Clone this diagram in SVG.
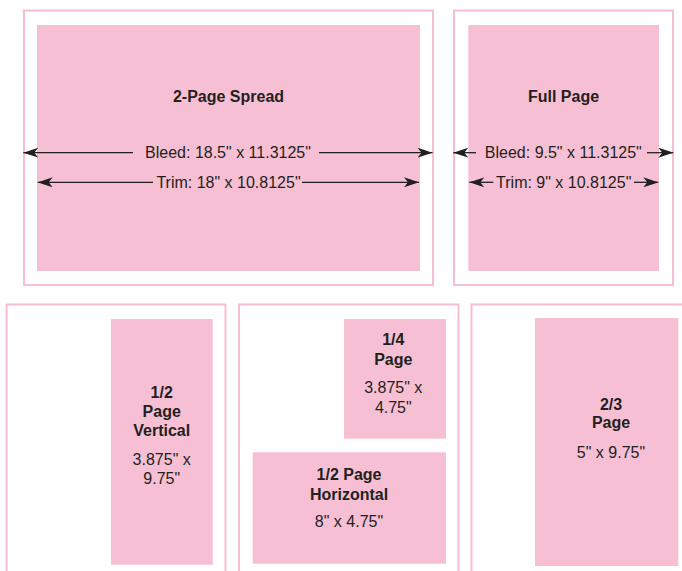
<svg xmlns="http://www.w3.org/2000/svg" width="682" height="571" viewBox="0 0 682 571">
<style>
.frame{fill:#ffffff;stroke:#f7bdd1;stroke-width:2}
.ad{fill:#f6bfd3}
.t{font-family:"Liberation Sans",Arial,sans-serif;font-size:16px;fill:#231f20;text-anchor:middle}
.b{font-weight:bold}
.dim{stroke:#231f20;stroke-width:1.3;fill:none}
</style>
<defs>
<marker id="ah" viewBox="0 0 15 10" refX="15" refY="5" markerWidth="15" markerHeight="10" markerUnits="userSpaceOnUse" orient="auto-start-reverse">
<path d="M0,0 L15,5 L0,10 L4,5 Z" fill="#231f20"/>
</marker>
</defs>
<rect width="682" height="571" fill="#ffffff"/>

<g id="spread">
<rect class="frame" x="24" y="10.5" width="409" height="274.5"/>
<rect class="ad" x="37" y="25" width="383" height="246"/>
<text class="t b" x="228.5" y="102">2-Page Spread</text>
<text class="t" x="228" y="158">Bleed: 18.5" x 11.3125"</text>
<text class="t" x="228.5" y="187.5">Trim: 18" x 10.8125"</text>
</g>

<g id="full-page">
<rect class="frame" x="454" y="10.5" width="219" height="274.5"/>
<rect class="ad" x="468.3" y="25" width="190.7" height="246"/>
<text class="t b" x="563.5" y="102">Full Page</text>
<text class="t" x="563.3" y="158">Bleed: 9.5" x 11.3125"</text>
<text class="t" x="563.7" y="187.5">Trim: 9" x 10.8125"</text>
</g>

<g id="half-vertical">
<rect class="frame" x="6.5" y="304.5" width="219" height="300"/>
<rect class="ad" x="111" y="319" width="101.7" height="245.7"/>
<text class="t b" x="161.7" y="397.7">1/2</text>
<text class="t b" x="161.7" y="416.7">Page</text>
<text class="t b" x="161.7" y="435.7">Vertical</text>
<text class="t" x="161.7" y="465">3.875" x</text>
<text class="t" x="161.7" y="484">9.75"</text>
</g>

<g id="quarter-and-half-horizontal">
<rect class="frame" x="239" y="304.5" width="219.5" height="300"/>
<g id="quarter">
<rect class="ad" x="344" y="319" width="102" height="119.7"/>
<text class="t b" x="393.3" y="345">1/4</text>
<text class="t b" x="393.3" y="365">Page</text>
<text class="t" x="393.3" y="392.7">3.875" x</text>
<text class="t" x="393.3" y="412.7">4.75"</text>
</g>
<g id="half-horizontal">
<rect class="ad" x="252.7" y="452.3" width="193.3" height="111.4"/>
<text class="t b" x="349" y="480">1/2 Page</text>
<text class="t b" x="349" y="500">Horizontal</text>
<text class="t" x="349" y="527.3">8" x 4.75"</text>
</g>
</g>

<g id="two-thirds">
<rect class="frame" x="471.5" y="304.5" width="300" height="300"/>
<rect class="ad" x="535" y="318" width="143.3" height="248"/>
<text class="t b" x="611" y="410">2/3</text>
<text class="t b" x="611" y="428.3">Page</text>
<text class="t" x="611" y="457.7">5" x 9.75"</text>
</g>

<g id="connectors">
<line class="dim" x1="23.3" y1="152.7" x2="133" y2="152.7" marker-start="url(#ah)"/>
<line class="dim" x1="319" y1="152.7" x2="432.5" y2="152.7" marker-end="url(#ah)"/>
<line class="dim" x1="37.7" y1="182.3" x2="153" y2="182.3" marker-start="url(#ah)"/>
<line class="dim" x1="302" y1="182.3" x2="419" y2="182.3" marker-end="url(#ah)"/>
<line class="dim" x1="453.3" y1="152.7" x2="476" y2="152.7" marker-start="url(#ah)"/>
<line class="dim" x1="647" y1="152.7" x2="673.3" y2="152.7" marker-end="url(#ah)"/>
<line class="dim" x1="469.3" y1="182.3" x2="493.3" y2="182.3" marker-start="url(#ah)"/>
<line class="dim" x1="634" y1="182.3" x2="658.3" y2="182.3" marker-end="url(#ah)"/>
</g>
</svg>
